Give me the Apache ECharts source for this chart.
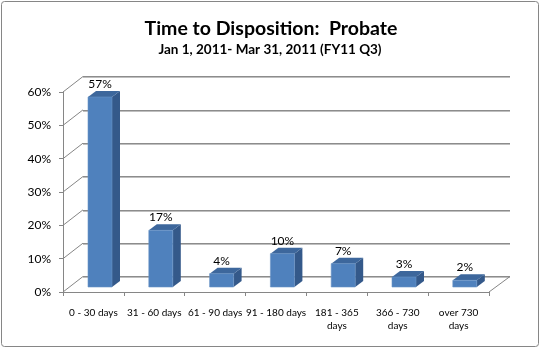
<!DOCTYPE html>
<html>
<head>
<meta charset="utf-8">
<script src="https://cdn.jsdelivr.net/npm/echarts@6/dist/echarts.min.js"></script>
<style>html,body{margin:0;padding:0;background:#fff;}#chart{width:541px;height:349px;}</style>
</head>
<body>
<div id="chart"></div>
<script>
const categories = ['0 - 30 days', '31 - 60 days', '61 - 90 days', '91 - 180 days', '181 - 365\ndays', '366 - 730\ndays', 'over 730\ndays'];
const values = [57, 17, 4, 10, 7, 3, 2];
const yTicks = [0, 10, 20, 30, 40, 50, 60];
const titleText = 'Time to Disposition:  Probate';
const subtitleText = 'Jan 1, 2011- Mar 31, 2011 (FY11 Q3)';

const FONT = 'Lato';
const GRAY = '#868686';
const DEPTH_X = 20, DEPTH_Y = 15.5;

const chart = echarts.init(document.getElementById('chart'), null, {renderer: 'canvas'});

const option = {
  backgroundColor: '#ffffff',
  animation: false,
  title: [
    {text: titleText, left: 266, top: 14, textAlign: 'center',
     textStyle: {fontFamily: FONT, fontWeight: 'bold', fontSize: 19.5, color: '#000'}},
    {text: subtitleText, left: 265, top: 38, textAlign: 'center',
     textStyle: {fontFamily: FONT, fontWeight: 'bold', fontSize: 13.5, color: '#000'}}
  ],
  graphic: [{
    type: 'rect', shape: {x: 1.5, y: 1.5, width: 537, height: 345, r: 3},
    style: {fill: 'none', stroke: GRAY, lineWidth: 1}, silent: true, z: 100
  }],
  grid: [
    {left: 63, right: 52, top: 92, bottom: 57},      // front plane
    {left: 83, right: 31, top: 76.5, bottom: 72.5},  // back wall
    {left: 69.6, right: 45.8, top: 87, bottom: 62}   // bar plane
  ],
  xAxis: [
    {gridIndex: 0, type: 'category', data: categories, boundaryGap: true,
     axisLine: {show: true, lineStyle: {color: GRAY, width: 1}},
     axisTick: {show: true, length: 4, lineStyle: {color: GRAY}},
     axisLabel: {interval: 0, margin: 14, fontFamily: FONT, fontSize: 10, color: '#000', lineHeight: 13},
     splitLine: {show: false}},
    {gridIndex: 1, type: 'category', data: categories, show: false},
    {gridIndex: 2, type: 'category', data: categories, show: false}
  ],
  yAxis: [
    {gridIndex: 0, type: 'value', min: 0, max: 60, interval: 10,
     axisLine: {show: true, lineStyle: {color: GRAY, width: 1}},
     axisTick: {show: true, length: 4, lineStyle: {color: GRAY}},
     axisLabel: {margin: 12, formatter: '{value}%', fontFamily: FONT, fontSize: 12, color: '#000'},
     splitLine: {show: false}},
    {gridIndex: 1, type: 'value', min: 0, max: 60, interval: 10,
     axisLine: {show: false}, axisTick: {show: false}, axisLabel: {show: false},
     splitLine: {show: true, lineStyle: {color: '#8c8c8c', width: 1, shadowColor: 'rgba(0,0,0,0.25)', shadowOffsetY: 1, shadowBlur: 0}}},
    {gridIndex: 2, type: 'value', min: 0, max: 60, interval: 10, show: false, splitLine: {show: false}}
  ],
  series: [
    {
      type: 'custom', xAxisIndex: 0, yAxisIndex: 0, silent: true, z: 1,
      data: yTicks.map(t => [0, t]),
      renderItem: function (params, api) {
        const cs = params.coordSys;
        const t = api.value(1);
        const y = api.coord([0, t])[1];
        const children = [{
          type: 'line', shape: {x1: cs.x, y1: y, x2: cs.x + DEPTH_X, y2: y - DEPTH_Y},
          style: {stroke: GRAY, lineWidth: 1}
        }];
        if (t === 0) {
          const xr = cs.x + cs.width;
          children.push({
            type: 'line', shape: {x1: xr, y1: y, x2: xr + 21, y2: y - DEPTH_Y},
            style: {stroke: GRAY, lineWidth: 1}
          });
        }
        return {type: 'group', children: children};
      }
    },
    {
      type: 'custom', xAxisIndex: 2, yAxisIndex: 2, silent: true, z: 5,
      data: values.map((v, i) => [i, v]),
      renderItem: function (params, api) {
        const i = api.value(0), v = api.value(1);
        const top = api.coord([i, v]);
        const base = api.coord([i, 0]);
        const w = 24, dx = 8, dy = 6;
        const x0 = top[0] - w / 2, x1 = top[0] + w / 2;
        const yT = top[1], yB = base[1];
        return {
          type: 'group',
          children: [
            {type: 'polygon', shape: {points: [[x1, yT], [x1 + dx, yT - dy], [x1 + dx, yB - dy], [x1, yB]]},
             style: {fill: '#34598a'}},
            {type: 'polygon', shape: {points: [[x0, yT], [x0 + dx, yT - dy], [x1 + dx, yT - dy], [x1, yT]]},
             style: {fill: '#3d679c'}},
            {type: 'rect', shape: {x: x0, y: yT, width: w, height: yB - yT},
             style: {fill: '#4f81bd', stroke: '#6a93c6', lineWidth: 0.6}},
            {type: 'text', x: top[0], y: yT - 13,
             style: {text: v + '%', fontFamily: FONT, fontSize: 12, fill: '#000', align: 'center', verticalAlign: 'middle'}}
          ]
        };
      }
    }
  ]
};
chart.setOption(option);
</script>
</body>
</html>
